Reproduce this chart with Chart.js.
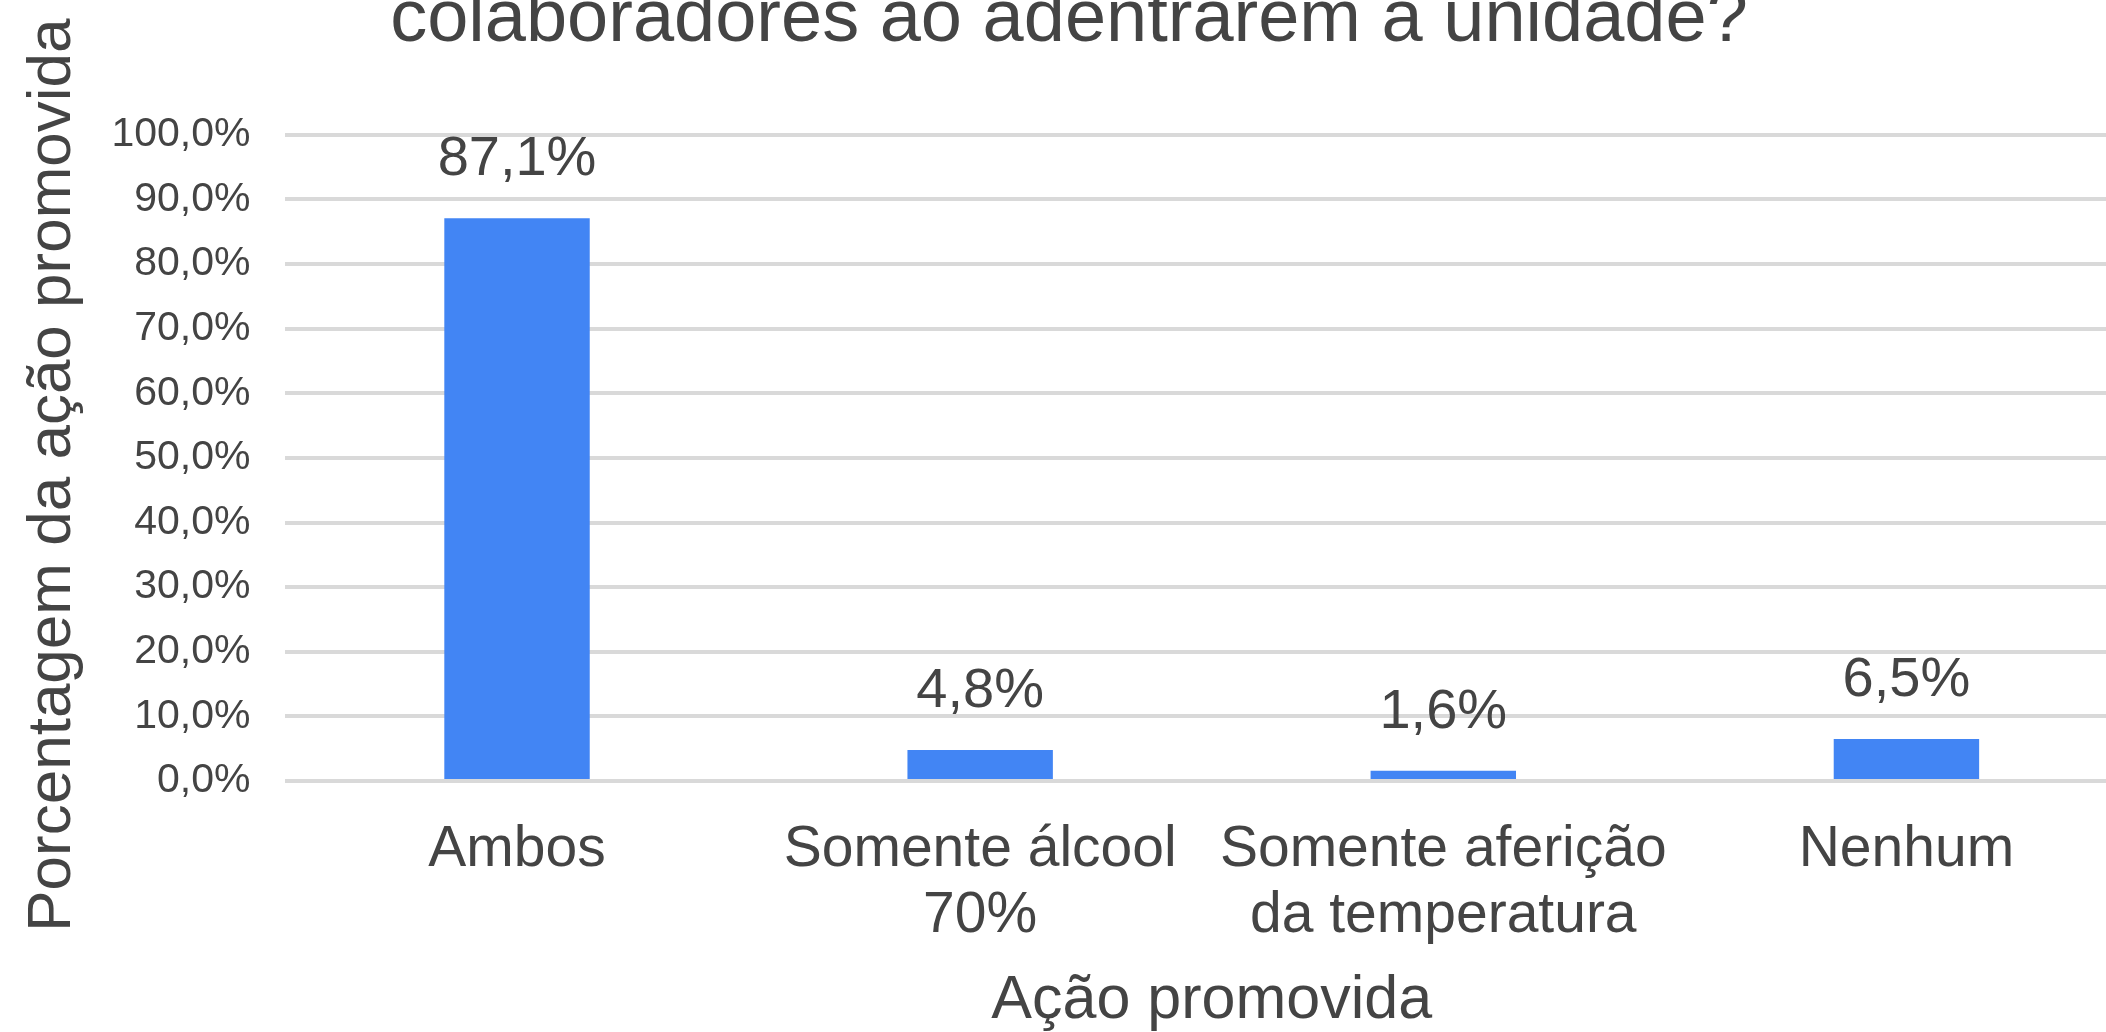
<!DOCTYPE html>
<html>
<head>
<meta charset="utf-8">
<script src="https://cdn.jsdelivr.net/npm/chart.js@4/dist/chart.umd.min.js"></script>
<style>
  html, body { margin: 0; padding: 0; overflow: hidden; background: #fff; width: 2106px; height: 1032px; }
  #wrap { position: absolute; left: 0; top: -66px; }
</style>
</head>
<body>
<div id="wrap"><canvas id="canvas" width="2140" height="1098"></canvas></div>
<script>
const categories = [["Ambos"], ["Somente álcool", "70%"], ["Somente aferição", "da temperatura"], ["Nenhum"]];
const values = [87.1, 4.8, 1.6, 6.5];
const yMin = 0, yMax = 100, yStep = 10;
const titleText = "colaboradores ao adentrarem a unidade?";
const xTitle = "Ação promovida";
const yTitle = "Porcentagem da ação promovida  "; // trailing spaces nudge the text down a little

const textColor = "#444444";
const barColor = "#4285f4";
const gridColor = "#d9d9d9";
const family = "'Liberation Sans', Arial, sans-serif";

const fmt = v => v.toFixed(1).replace(".", ",") + "%";

// value above each bar
const valueLabels = {
  id: "valueLabels",
  afterDatasetsDraw(chart) {
    const ctx = chart.ctx;
    const meta = chart.getDatasetMeta(0);
    ctx.save();
    ctx.font = "56px " + family;
    ctx.fillStyle = textColor;
    ctx.textAlign = "center";
    ctx.textBaseline = "alphabetic";
    meta.data.forEach((bar, i) => {
      ctx.fillText(fmt(values[i]), bar.x, bar.y - 43);
    });
    ctx.restore();
  }
};

const canvas = document.getElementById("canvas").getContext("2d");

new Chart(canvas, {
  type: "bar",
  data: {
    labels: categories,
    datasets: [{
      data: values,
      backgroundColor: barColor,
      borderWidth: 0,
      barPercentage: 0.314,
      categoryPercentage: 1
    }]
  },
  options: {
    responsive: false,
    animation: false,
    layout: { padding: { left: 0, right: 2, top: 0, bottom: 0 } },
    plugins: {
      legend: { display: false },
      tooltip: { enabled: false },
      title: {
        display: true,
        text: titleText,
        color: textColor,
        font: { family: family, size: 74, weight: "normal", lineHeight: 1.2 },
        padding: { top: 42, bottom: 70 }
      }
    },
    scales: {
      x: {
        grid: { display: false },
        border: { display: false },
        ticks: {
          color: textColor,
          font: { family: family, size: 57, lineHeight: 1.158 },
          padding: 28,
          maxRotation: 0,
          autoSkip: false
        },
        title: {
          display: true,
          text: xTitle,
          color: textColor,
          font: { family: family, size: 61, lineHeight: 1.0 },
          padding: { top: -6, bottom: 0 }
        }
      },
      y: {
        min: yMin,
        max: yMax,
        grid: { color: gridColor, lineWidth: 4, drawTicks: false },
        border: { display: false },
        ticks: {
          stepSize: yStep,
          color: textColor,
          font: { family: family, size: 41 },
          padding: 35,
          callback: v => fmt(v)
        },
        title: {
          display: true,
          text: yTitle,
          color: textColor,
          font: { family: family, size: 62, lineHeight: 1.2 },
          padding: { top: 16, bottom: -14 }
        }
      }
    }
  },
  plugins: [valueLabels]
});
</script>
</body>
</html>
